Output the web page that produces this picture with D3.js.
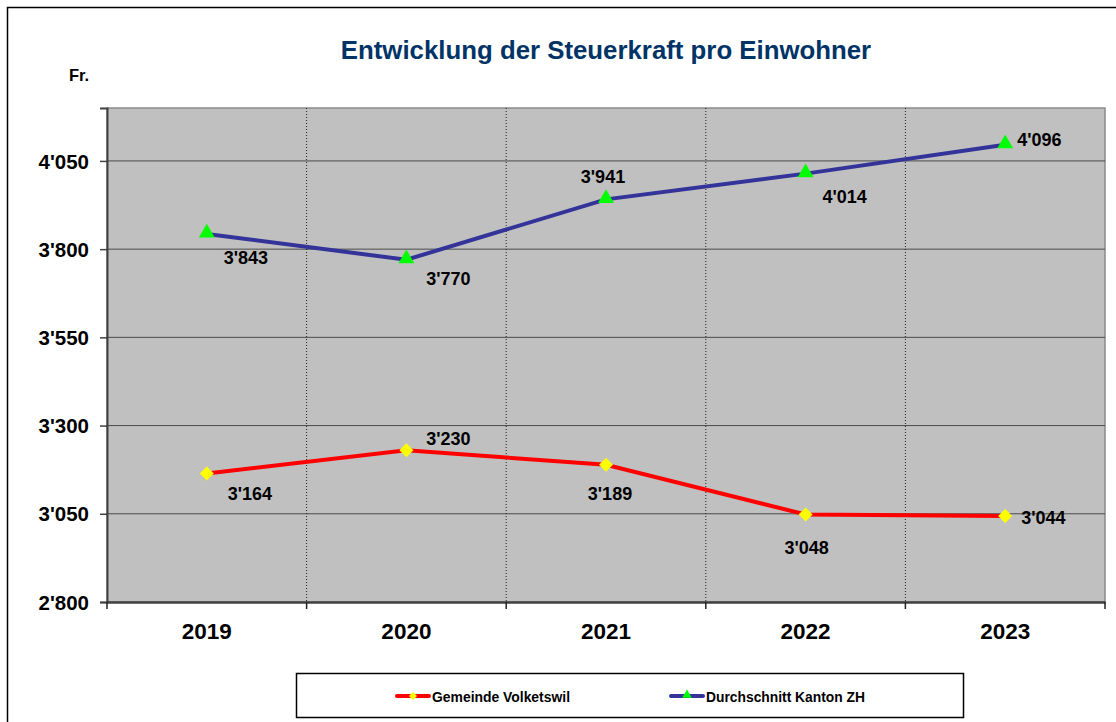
<!DOCTYPE html>
<html>
<head>
  <title>Steuerkraft pro Einwohner</title>
  <script src="https://d3js.org/d3.v7.min.js"></script>
  <style>
    body { margin: 0; padding: 0; background: #ffffff; }
    text { font-family: Arial, "Liberation Sans", sans-serif; font-weight: bold; }
    .axis text { font-size: 20.5px; fill: #000; }
    .xaxis text { font-size: 22.5px; }
    .title { font-size: 25.8px; fill: #003366; }
    .valueLabel { font-size: 18px; fill: #000; }
    .legendText { font-size: 14px; }
  </style>
</head>
<body>
  <div id="chart"></div>
  <script>

    /* DATA */
    let years = ["2019", "2020", "2021", "2022", "2023"];
    let volketswil = [3164, 3230, 3189, 3048, 3044];
    let kantonZH = [3843, 3770, 3941, 4014, 4096];
    let yTicks = [2800, 3050, 3300, 3550, 3800, 4050];
    let seriesNames = ["Gemeinde Volketswil", "Durchschnitt Kanton ZH"];

    // label offsets (dx, dy, anchor) for each value, picked by hand
    let volkOffsets = [[43, 20, "middle"], [42, -12, "middle"], [4, 29, "middle"], [1, 33, "middle"], [16, 2, "start"]];
    let zhOffsets = [[39, 24, "middle"], [42, 19, "middle"], [-3, -23, "middle"], [39, 23, "middle"], [12, -5, "start"]];

    let width = 1116, height = 722;
    let margin = {top: 108, left: 107, right: 11, bottom: 120};

    let svg = d3.select("#chart")
      .append("svg")
      .attr("width", width)
      .attr("height", height);

    // outer frame
    svg.append("rect")
      .attr("x", 7.5).attr("y", 7.5)
      .attr("width", width + 10).attr("height", height + 10)
      .attr("fill", "none")
      .attr("stroke", "#000")
      .attr("stroke-width", 1.5);

    /* SCALES */
    let xScale = d3.scaleBand()
      .domain(years)
      .range([margin.left, width - margin.right]);

    let yScale = d3.scaleLinear()
      .domain([2800, 4200])
      .range([height - margin.bottom, margin.top]);

    let fmt = function(v) { return d3.format(",")(v).replace(",", "'"); };

    /* PLOT AREA */
    svg.append("rect")
      .attr("x", margin.left)
      .attr("y", margin.top)
      .attr("width", width - margin.right - margin.left)
      .attr("height", height - margin.bottom - margin.top)
      .attr("fill", "#c0c0c0")
      .attr("stroke", "#8a8a8a")
      .attr("stroke-width", 1.5);

    // horizontal gridlines
    svg.selectAll("line.hgrid")
      .data(yTicks.slice(1))
      .enter()
      .append("line")
        .attr("class", "hgrid")
        .attr("x1", margin.left).attr("x2", width - margin.right)
        .attr("y1", function(d) { return yScale(d); })
        .attr("y2", function(d) { return yScale(d); })
        .attr("stroke", "#4a4a4a")
        .attr("stroke-width", 1);

    // vertical dotted gridlines at category boundaries
    svg.selectAll("line.vgrid")
      .data(years.slice(1))
      .enter()
      .append("line")
        .attr("class", "vgrid")
        .attr("x1", function(d) { return xScale(d); })
        .attr("x2", function(d) { return xScale(d); })
        .attr("y1", margin.top).attr("y2", height - margin.bottom)
        .attr("stroke", "#222")
        .attr("stroke-width", 1)
        .attr("stroke-dasharray", "1,2");

    /* AXES */
    let yAxis = svg.append("g")
      .attr("class", "axis")
      .attr("transform", `translate(${margin.left},0)`)
      .call(d3.axisLeft(yScale).tickValues(yTicks).tickFormat(fmt).tickSize(7).tickPadding(11));
    yAxis.select(".domain").attr("stroke", "#404040").attr("stroke-width", 2);
    yAxis.selectAll(".tick line").attr("stroke", "#404040").attr("stroke-width", 1.5);
    yAxis.selectAll("text").attr("dy", "0.35em");

    let xAxis = svg.append("g")
      .attr("class", "axis xaxis")
      .attr("transform", `translate(0,${height - margin.bottom})`)
      .call(d3.axisBottom(xScale).tickSize(0).tickPadding(21));
    xAxis.select(".domain").attr("stroke", "#404040").attr("stroke-width", 2.5);

    // category boundary ticks
    xAxis.selectAll("line.bound")
      .data(years.concat(["end"]))
      .enter()
      .append("line")
        .attr("class", "bound")
        .attr("x1", function(d, i) { return i < years.length ? xScale(d) : width - margin.right; })
        .attr("x2", function(d, i) { return i < years.length ? xScale(d) : width - margin.right; })
        .attr("y1", 0).attr("y2", 7)
        .attr("stroke", "#222")
        .attr("stroke-width", 1.5);

    /* TITLES */
    svg.append("text")
      .attr("class", "title")
      .attr("x", 606).attr("y", 59)
      .attr("text-anchor", "middle")
      .text("Entwicklung der Steuerkraft pro Einwohner");

    svg.append("text")
      .attr("x", 69).attr("y", 81)
      .style("font-size", "16.5px")
      .text("Fr.");

    /* LINES */
    let cx = function(i) { return xScale(years[i]) + xScale.bandwidth() / 2; };
    let line = d3.line()
      .x(function(d, i) { return cx(i); })
      .y(function(d) { return yScale(d); });

    svg.append("path")
      .datum(kantonZH)
      .attr("d", line)
      .attr("fill", "none")
      .attr("stroke", "#333399")
      .attr("stroke-width", 4);

    svg.append("path")
      .datum(volketswil)
      .attr("d", line)
      .attr("fill", "none")
      .attr("stroke", "#ff0000")
      .attr("stroke-width", 4);

    /* MARKERS */
    let triangle = d3.symbol().type(d3.symbolTriangle).size(110);
    let diamond = "M0,-7L7,0L0,7L-7,0Z";

    svg.selectAll("path.tri")
      .data(kantonZH)
      .enter()
      .append("path")
        .attr("class", "tri")
        .attr("d", triangle)
        .attr("transform", function(d, i) { return `translate(${cx(i)},${yScale(d) - 1})`; })
        .attr("fill", "#00ff00");

    svg.selectAll("path.dia")
      .data(volketswil)
      .enter()
      .append("path")
        .attr("class", "dia")
        .attr("d", diamond)
        .attr("transform", function(d, i) { return `translate(${cx(i)},${yScale(d)})`; })
        .attr("fill", "#ffff00");

    /* VALUE LABELS */
    function drawLabels(values, offsets) {
      svg.append("g").selectAll("text")
        .data(values)
        .enter()
        .append("text")
          .attr("class", "valueLabel")
          .attr("x", function(d, i) { return cx(i) + offsets[i][0]; })
          .attr("y", function(d, i) { return yScale(d) + offsets[i][1]; })
          .attr("dy", "0.35em")
          .attr("text-anchor", function(d, i) { return offsets[i][2]; })
          .text(fmt);
    }
    drawLabels(kantonZH, zhOffsets);
    drawLabels(volketswil, volkOffsets);

    /* LEGEND */
    let legend = svg.append("g");
    legend.append("rect")
      .attr("x", 296.5).attr("y", 673.5)
      .attr("width", 667).attr("height", 44)
      .attr("fill", "#fff")
      .attr("stroke", "#000")
      .attr("stroke-width", 1.5);

    let legendX = [397, 671];
    let legendTextLen = [138, 159];
    let legendColors = ["#ff0000", "#333399"];
    seriesNames.forEach(function(name, i) {
      legend.append("line")
        .attr("x1", legendX[i]).attr("x2", legendX[i] + 32)
        .attr("y1", 696).attr("y2", 696)
        .attr("stroke", legendColors[i])
        .attr("stroke-width", 4)
        .attr("stroke-linecap", "round");
      if (i === 0) {
        legend.append("path")
          .attr("d", "M0,-4L4,0L0,4L-4,0Z")
          .attr("transform", `translate(${legendX[i] + 16},696)`)
          .attr("fill", "#ffff00");
      } else {
        legend.append("path")
          .attr("d", d3.symbol().type(d3.symbolTriangle).size(40))
          .attr("transform", `translate(${legendX[i] + 16},695)`)
          .attr("fill", "#00ff00");
      }
      legend.append("text")
        .attr("class", "legendText")
        .attr("x", legendX[i] + 35)
        .attr("y", 697)
        .attr("dy", "0.35em")
        .attr("textLength", legendTextLen[i])
        .attr("lengthAdjust", "spacingAndGlyphs")
        .text(name);
    });

  </script>
</body>
</html>
